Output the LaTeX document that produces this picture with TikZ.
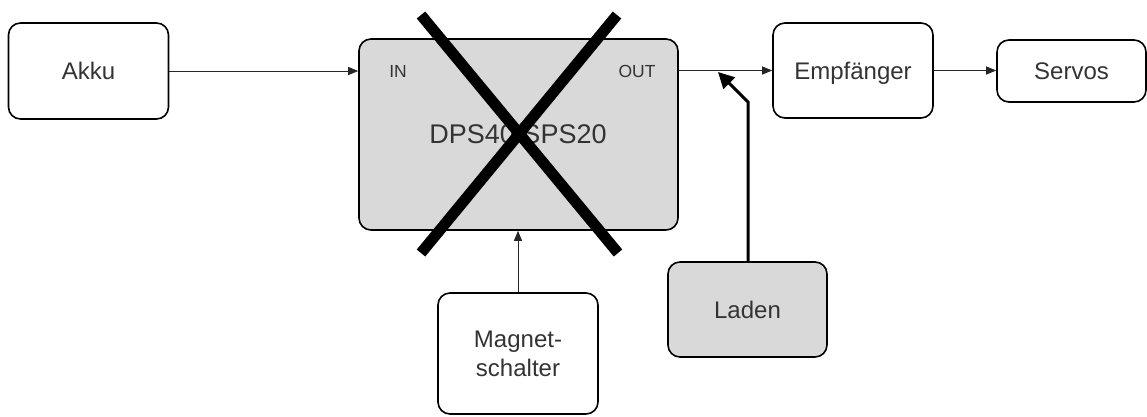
\documentclass[tikz,border=0pt]{standalone}
\usepackage{fontspec}
\setmainfont{Liberation Sans}
\usetikzlibrary{arrows.meta}
\definecolor{txt}{HTML}{333333}
\definecolor{boxgray}{HTML}{D9D9D9}
\tikzset{
  blk/.style={draw=black, line width=1.6pt, rounded corners=12pt, inner sep=0pt,
    text=txt, font=\fontsize{24}{29}\selectfont, align=center},
  grayblk/.style={blk, fill=boxgray},
  conn/.style={draw=black!85, line width=1pt, -{Triangle[length=10pt,width=8pt]}},
  thickconn/.style={draw=black, line width=3pt, -{Triangle[length=16pt,width=16pt]}},
  portlbl/.style={text=txt, font=\fontsize{17.5}{20}\selectfont, inner sep=0pt},
  crossline/.style={draw=black, line width=11pt, line cap=butt}
}
\begin{document}
\begin{tikzpicture}[x=1pt,y=-1pt]
\useasboundingbox (0,0) rectangle (1147,416);
\node[blk, minimum width=160pt, minimum height=96pt] (akku) at (88.5,71) {Akku};
\node[grayblk, minimum width=319pt, minimum height=191pt] (dps) at (518.5,134.5) {};
\node[text=txt, font=\fontsize{27}{32}\selectfont, inner sep=0pt] (dpslbl) at (518,134) {DPS40/SPS20};
\node[portlbl] (in) at (398,71) {IN};
\node[portlbl] (out) at (637,71) {OUT};
\node[blk, text height=17pt, text depth=0pt, minimum width=160pt, minimum height=95pt] (emp) at (853,70.5) {Empfänger};
\node[blk, minimum width=149pt, minimum height=62pt] (servos) at (1071.5,71) {Servos};
\node[blk, minimum width=160pt, minimum height=121pt] (mag) at (518,353.5) {Magnet-\\schalter};
\node[grayblk, minimum width=159pt, minimum height=95pt] (laden) at (747.5,309.5) {Laden};

\draw[conn] (akku.east) -- (akku.east -| dps.west);
\draw[conn] (dps.east |- emp.west) -- (emp.west);
\draw[conn] (emp.east) -- (emp.east -| servos.west);
\draw[conn] (mag.north) -- (mag.north |- dps.south);

\coordinate (bend) at (748,102);
\coordinate (tip) at (718,72);
\draw[thickconn] (laden.north -| bend) -- (bend) -- (tip);

\draw[crossline] (421,15) -- (618,253);
\draw[crossline] (617,15) -- (421,253);
\end{tikzpicture}
\end{document}
